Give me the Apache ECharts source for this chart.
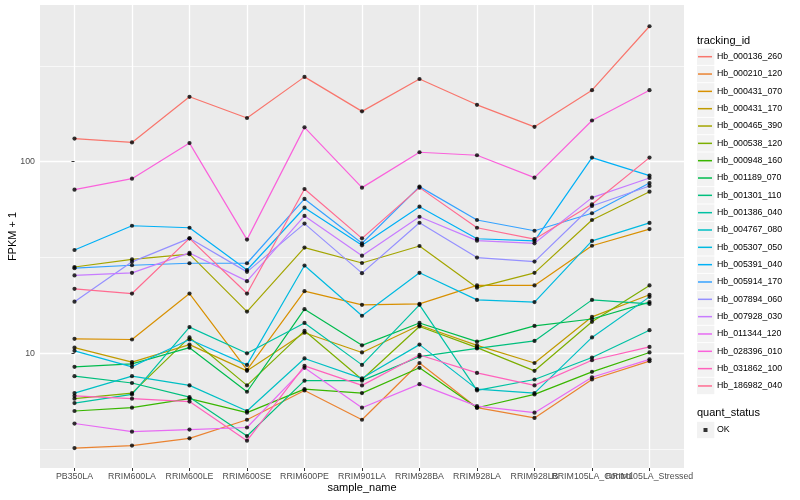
<!DOCTYPE html>
<html>
<head>
<meta charset="utf-8">
<script src="https://cdn.jsdelivr.net/npm/echarts@6/dist/echarts.min.js"></script>
<style>
html,body{margin:0;padding:0;background:#ffffff;}
#chart{width:800px;height:500px;}
</style>
</head>
<body>
<div id="chart"></div>
<script>
// ---------- data ----------
const sampleNames = ["PB350LA","RRIM600LA","RRIM600LE","RRIM600SE","RRIM600PE","RRIM901LA","RRIM928BA","RRIM928LA","RRIM928LB","RRIM105LA_Control","RRIM105LA_Stressed"];
const trackingIds = ["Hb_000136_260","Hb_000210_120","Hb_000431_070","Hb_000431_170","Hb_000465_390","Hb_000538_120","Hb_000948_160","Hb_001189_070","Hb_001301_110","Hb_001386_040","Hb_004767_080","Hb_005307_050","Hb_005391_040","Hb_005914_170","Hb_007894_060","Hb_007928_030","Hb_011344_120","Hb_028396_010","Hb_031862_100","Hb_186982_040"];
const quantStatus = ["OK"];
const yTickLabels = [10, 100];

const hb_000136_260 = [132, 126, 218, 169, 277, 183, 270, 198, 152, 236, 509];
const hb_000210_120 = [3.2, 3.3, 3.6, 4.5, 6.4, 4.5, 8.9, 5.2, 4.6, 7.3, 9.1];
const hb_000431_070 = [11.9, 11.8, 20.5, 8.2, 21.1, 17.9, 18.1, 22.6, 22.6, 36.4, 44.5];
const hb_000431_170 = [10.7, 9.0, 11.1, 8.1, 12.8, 10.1, 14.0, 11.0, 8.9, 15.5, 20.2];
const hb_000465_390 = [28.2, 30.9, 32.9, 16.5, 35.6, 29.6, 36.3, 22.0, 26.3, 49.6, 69.7];
const hb_000538_120 = [5.8, 6.2, 12.1, 6.8, 13.1, 7.3, 13.8, 10.7, 8.1, 14.6, 22.6];
const hb_000948_160 = [5.0, 5.2, 5.8, 4.9, 6.5, 6.2, 8.4, 5.2, 6.1, 8.0, 10.1];
const hb_001189_070 = [8.5, 8.8, 10.7, 6.3, 17.0, 11.0, 14.4, 11.5, 13.9, 15.1, 18.5];
const hb_001301_110 = [7.6, 7.0, 5.9, 3.7, 7.2, 7.2, 9.6, 10.6, 11.6, 19.0, 18.1];
const hb_001386_040 = [5.5, 6.1, 13.7, 10.0, 14.4, 8.7, 17.9, 6.4, 7.3, 9.5, 13.2];
const hb_004767_080 = [6.2, 7.6, 6.8, 5.0, 9.4, 7.4, 11.1, 6.5, 6.2, 12.1, 19.7];
const hb_005307_050 = [10.3, 8.5, 11.8, 8.7, 28.7, 15.7, 26.3, 19.0, 18.5, 38.6, 47.9];
const hb_005391_040 = [34.6, 46.3, 45.2, 27.2, 57.5, 36.6, 58.2, 39.6, 38.6, 105, 84.5];
const hb_005914_170 = [27.8, 28.8, 29.5, 29.5, 63.9, 37.5, 74.1, 49.6, 43.6, 53.8, 77.4];
const hb_007894_060 = [18.6, 30.0, 39.8, 26.6, 47.5, 26.2, 48.0, 31.6, 30.1, 58.7, 74.7];
const hb_007928_030 = [25.5, 26.3, 33.4, 23.8, 52.1, 32.3, 51.6, 38.7, 37.5, 64.9, 82.2];
const hb_011344_120 = [4.3, 3.9, 4.0, 4.1, 8.4, 5.2, 6.9, 5.3, 4.9, 7.5, 9.3];
const hb_028396_010 = [71.4, 81.5, 125, 39.2, 151, 73.2, 112, 108, 82.5, 164, 236];
const hb_031862_100 = [6.0, 5.8, 5.6, 3.5, 8.6, 6.8, 9.8, 7.9, 6.8, 9.2, 10.8];
const hb_186982_040 = [21.7, 20.5, 39.8, 20.5, 72.0, 39.8, 73.2, 45.2, 39.4, 59.9, 105];

const seriesValues = [hb_000136_260, hb_000210_120, hb_000431_070, hb_000431_170, hb_000465_390,
  hb_000538_120, hb_000948_160, hb_001189_070, hb_001301_110, hb_001386_040, hb_004767_080,
  hb_005307_050, hb_005391_040, hb_005914_170, hb_007894_060, hb_007928_030, hb_011344_120,
  hb_028396_010, hb_031862_100, hb_186982_040];

// ---------- style ----------
const palette = ["#F8766D","#EA8331","#D89000","#C09B00","#A3A500","#7CAE00","#39B600","#00BB4E","#00BF7D","#00C1A3","#00BFC4","#00BAE0","#00B0F6","#35A2FF","#9590FF","#C77CFF","#E76BF3","#FA62DB","#FF62BC","#FF6C91"];
const FONT = '"Liberation Sans", Arial, Helvetica, sans-serif';
const catIdx = sampleNames.map((_, i) => i);
const evenIdx = catIdx.filter(i => i % 2 === 0);
const oddIdx = catIdx.filter(i => i % 2 === 1);
const minorBreaks = [Math.pow(10, 0.5), Math.pow(10, 1.5), Math.pow(10, 2.5)];
const catLabel = v => { const r = Math.round(v); return Math.abs(r - v) < 1e-6 && sampleNames[r] ? sampleNames[r] : ''; };

const lineSeries = trackingIds.map((id, k) => ({
  name: id,
  type: 'line',
  data: seriesValues[k].map((v, i) => [i, v]),
  symbol: 'none',
  showSymbol: false,
  silent: true,
  z: 2,
  color: palette[k],
  itemStyle: { color: palette[k] },
  lineStyle: { width: 1.2, color: palette[k] }
}));

lineSeries[0].markLine = {
  silent: true,
  z: 1,
  symbol: ['none', 'none'],
  label: { show: false },
  lineStyle: { color: '#ffffff', width: 0.65, type: 'solid' },
  emphasis: { disabled: true },
  data: minorBreaks.map(v => ({ yAxis: v }))
};

const pointSeries = {
  name: quantStatus[0],
  type: 'scatter',
  data: seriesValues.flatMap(vals => vals.map((v, i) => [i, v])),
  symbol: 'circle',
  symbolSize: 4.2,
  silent: true,
  z: 3,
  itemStyle: { color: '#000000' }
};

// legend key backgrounds and titles
const legendTop = 56.7, legendStep = 17.33;
const graphic = [];
graphic.push({ type: 'text', x: 697, y: 40.7, silent: true, z: 0,
  style: { text: 'tracking_id', font: '11px ' + FONT, fill: '#000', verticalAlign: 'middle', align: 'left' } });
trackingIds.forEach((id, i) => {
  graphic.push({ type: 'rect', silent: true, z: 0,
    shape: { x: 697, y: legendTop + i * legendStep - 8.2, width: 17.3, height: 16.4 },
    style: { fill: '#F2F2F2' } });
});
graphic.push({ type: 'text', x: 697, y: 412.7, silent: true, z: 0,
  style: { text: 'quant_status', font: '11px ' + FONT, fill: '#000', verticalAlign: 'middle', align: 'left' } });
graphic.push({ type: 'rect', silent: true, z: 0,
  shape: { x: 697, y: 430 - 8.2, width: 17.3, height: 16.4 }, style: { fill: '#F2F2F2' } });

const labelStyle = { fontSize: 8.8, color: '#4D4D4D', margin: 4.5, fontFamily: FONT, hideOverlap: false,
  showMinLabel: true, showMaxLabel: true, formatter: catLabel };

const option = {
  animation: false,
  backgroundColor: '#ffffff',
  textStyle: { fontFamily: FONT },
  grid: { left: 40, right: 116, top: 5, bottom: 32, show: true, backgroundColor: '#EBEBEB',
    borderWidth: 0, containLabel: false, outerBoundsMode: 'none' },
  xAxis: [
    {
      type: 'value', min: -0.6, max: 10.6, position: 'bottom',
      name: 'sample_name', nameLocation: 'middle', nameGap: 14, nameMoveOverlap: false,
      nameTextStyle: { fontSize: 11, color: '#000', fontFamily: FONT },
      axisLine: { show: false },
      axisTick: { show: true, length: 3, customValues: catIdx, lineStyle: { color: '#333333', width: 1 } },
      axisLabel: Object.assign({ customValues: evenIdx }, labelStyle),
      splitLine: { show: true, lineStyle: { color: '#ffffff', width: 1.3 } },
      minorSplitLine: { show: false }
    },
    {
      type: 'value', min: -0.6, max: 10.6, position: 'bottom', offset: 0,
      axisLine: { show: false },
      axisTick: { show: false, customValues: oddIdx },
      axisLabel: Object.assign({ customValues: oddIdx }, labelStyle),
      splitLine: { show: false }
    }
  ],
  yAxis: {
    type: 'log', logBase: 10, min: 2.52, max: 657,
    name: 'FPKM + 1', nameLocation: 'middle', nameGap: 22, nameRotate: 90, nameMoveOverlap: false,
    nameTextStyle: { fontSize: 11, color: '#000', fontFamily: FONT },
    axisLine: { show: false },
    axisTick: { show: true, length: 3, customValues: yTickLabels, lineStyle: { color: '#333333', width: 1 } },
    axisLabel: {
      formatter: v => { const r = Math.round(v); return yTickLabels.indexOf(r) >= 0 && Math.abs(r - v) < 1e-3 ? String(r) : ''; },
      fontSize: 8.8, color: '#4D4D4D', margin: 5, fontFamily: FONT
    },
    splitLine: { show: true, lineStyle: { color: '#ffffff', width: 1.3 } }
  },
  legend: [
    {
      data: trackingIds, orient: 'vertical', left: 698, top: legendTop - legendStep / 2,
      padding: 0, itemGap: 0, itemWidth: 14, itemHeight: 1.5, icon: 'rect',
      selectedMode: false,
      itemStyle: { borderWidth: 0 },
      textStyle: { fontSize: 8.8, color: '#000', lineHeight: legendStep, fontFamily: FONT }
    },
    {
      data: quantStatus, orient: 'vertical', left: 703.5, top: 424,
      padding: 0, itemGap: 0, itemWidth: 4, itemHeight: 4, icon: 'rect',
      selectedMode: false,
      itemStyle: { borderWidth: 0, color: '#000' },
      textStyle: { fontSize: 8.8, color: '#000', lineHeight: 12, fontFamily: FONT, padding: [0, 0, 0, 4.5] }
    }
  ],
  graphic: graphic,
  series: lineSeries.concat([pointSeries])
};

const chart = echarts.init(document.getElementById('chart'), null, { renderer: 'canvas' });
chart.setOption(option);
</script>
</body>
</html>
